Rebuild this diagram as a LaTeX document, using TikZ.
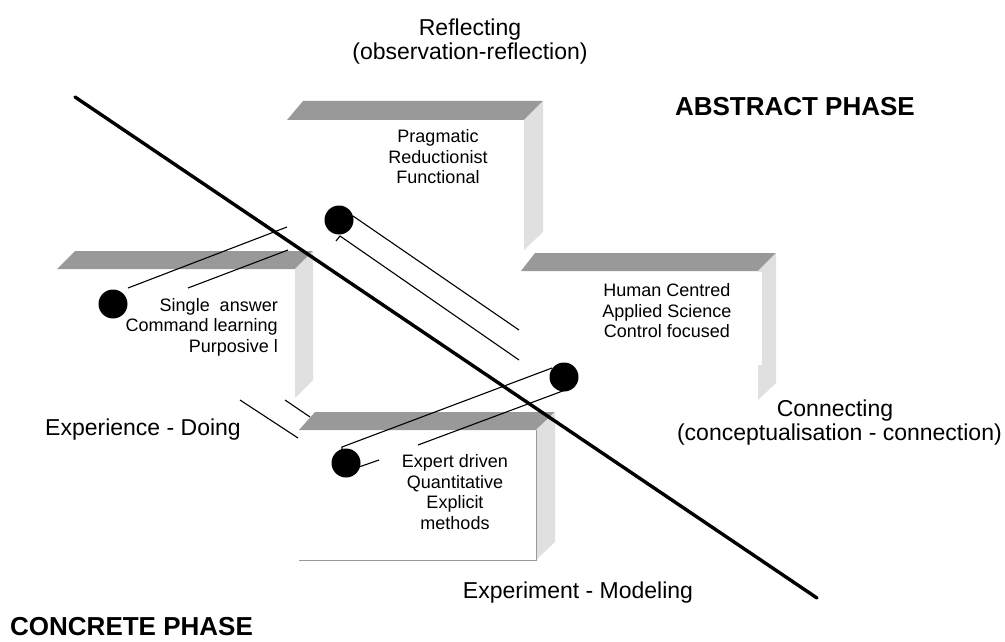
\documentclass[tikz,border=0pt]{standalone}
\usepackage{fontspec}
\setmainfont{Liberation Sans}
\begin{document}
\begin{tikzpicture}[x=1pt,y=-1pt,
  bar/.style={fill=barg,draw=none},
  side/.style={fill=sideg,draw=none},
  thin/.style={line width=1.1pt,black},
  dot/.style={circle,fill=black,minimum size=29pt,inner sep=0pt},
  small/.style={font=\fontsize{18}{20.5}\selectfont,inner sep=0pt,align=center},
  big/.style={font=\fontsize{23}{25}\selectfont,inner sep=0pt},
  phase/.style={font=\fontsize{26}{30}\selectfont\bfseries,inner sep=0pt}]
\definecolor{barg}{HTML}{999999}
\definecolor{sideg}{HTML}{E0E0E0}
\useasboundingbox (0,0) rectangle (1005,642);
% ---- box 1 (top)
\fill[barg] (287,120) -- (303,101) -- (543,101) -- (524,120) -- cycle;
\fill[sideg] (524,120) -- (543,101) -- (543,232) -- (524,250) -- cycle;
% ---- box 2 (left)
\fill[barg] (57,269) -- (75,251) -- (313,251) -- (295,269) -- cycle;
\fill[sideg] (295,269) -- (313,251) -- (313,380) -- (295,398) -- cycle;
% ---- box 3 (right)
\fill[barg] (521,271) -- (535,253) -- (776,253) -- (758,271) -- cycle;
\fill[sideg] (758,271) -- (776,253) -- (776,383) -- (758,400) -- cycle;
\fill[white] (758,272) rectangle (762,365);
% ---- box 4 (bottom)
\fill[barg] (299,430) -- (315,412) -- (555,412) -- (536,430) -- cycle;
\fill[sideg] (536,430) -- (555,412) -- (555,542) -- (536,560) -- cycle;
\draw[line width=0.8pt,barg] (299,560) -- (536,560) -- (536,430);

% ---- circles
\node[dot] (c1) at (339,220) {};
\node[dot] (c2) at (113,304) {};
\node[dot] (c3) at (564,377) {};
\node[dot] (c4) at (346,463) {};

% ---- cylinder outlines
\coordinate (a1) at (353,216); \coordinate (a2) at (519,330);
\coordinate (b0) at (336,241); \coordinate (b1) at (340,236); \coordinate (b2) at (519,360);
\draw[thin] (a1) -- (a2);
\draw[thin] (b0) -- (b1) -- (b2);

\coordinate (d1) at (128,288); \coordinate (d2) at (287,227);
\coordinate (e1) at (188,288); \coordinate (e2) at (288,250);
\draw[thin] (d1) -- (d2);
\draw[thin] (e1) -- (e2);

\coordinate (f0) at (342,452); \coordinate (f1) at (342,447); \coordinate (f2) at (552,368);
\coordinate (g1) at (359,467); \coordinate (g2) at (379,460);
\coordinate (g3) at (418,445); \coordinate (g4) at (568,389);
\draw[thin] (f0) -- (f1) -- (f2);
\draw[thin] (g1) -- (g2);
\draw[thin] (g3) -- (g4);

\coordinate (h1) at (240,400); \coordinate (h2) at (298,438);
\coordinate (k1) at (285,400); \coordinate (k2) at (310,417);
\draw[thin] (h1) -- (h2);
\draw[thin] (k1) -- (k2);

% ---- main diagonal
\coordinate (m1) at (75,97);
\coordinate (m2) at (817,598);
\draw[line width=3.4pt,line cap=round] (m1) -- (m2);

% ---- texts
\node[small] (t1) at (438,157) {Pragmatic\\Reductionist\\Functional};
\node[small,align=right,anchor=east] (t2) at (278,327) {Single\ \ answer\\Command learning\\Purposive l};
\node[small] (t3) at (667,311) {Human Centred\\Applied Science\\Control focused};
\node[small] (t4) at (455,492) {Expert driven\\Quantitative\\Explicit\\methods};

\node[big] (l1) at (470,30) {Reflecting};
\node[big] (l2) at (470,54) {(observation-reflection)};
\node[big] (l3) at (835,411) {Connecting};
\node[big,anchor=east] (l4) at (1002,435) {(conceptualisation - connection)};
\node[big] (l5) at (143,430) {Experience - Doing};
\node[big] (l6) at (578,593) {Experiment - Modeling};
\node[phase,anchor=west] (p1) at (10,627) {CONCRETE PHASE};
\node[phase,anchor=east] (p2) at (915,107) {ABSTRACT PHASE};
\end{tikzpicture}
\end{document}
